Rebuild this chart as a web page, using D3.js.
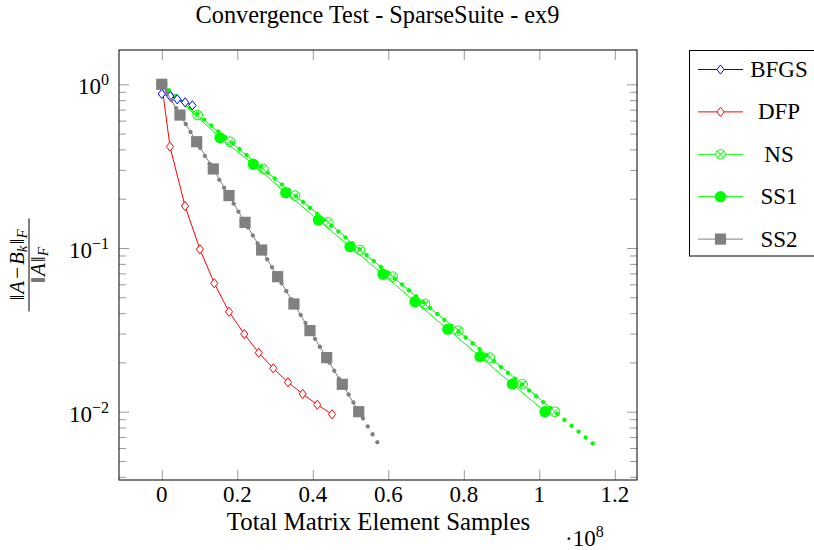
<!DOCTYPE html>
<html><head><meta charset="utf-8">
<script src="https://cdn.jsdelivr.net/npm/d3@7"></script>
<style>body{margin:0;background:#fff}</style>
</head><body><svg id="c" width="814" height="550" xmlns="http://www.w3.org/2000/svg"></svg>
<script>
// ---------- data ----------
const title = "Convergence Test - SparseSuite - ex9";
const xLabel = "Total Matrix Element Samples";
const xTicks = [0, 0.2, 0.4, 0.6, 0.8, 1, 1.2];
const xTickLabels = ["0", "0.2", "0.4", "0.6", "0.8", "1", "1.2"];
const yMajor = [1, 0.1, 0.01];
const yTickExponents = ["0", "\u22121", "\u22122"];
const yMinor = [0.9,0.8,0.7,0.6,0.5,0.4,0.3,0.2,
                0.09,0.08,0.07,0.06,0.05,0.04,0.03,0.02,
                0.009,0.008,0.007,0.006,0.005,0.004];

const seriesNames = ["BFGS", "DFP", "NS", "SS1", "SS2"];

const bfgsX = [0.000, 0.022, 0.041, 0.062, 0.081];
const bfgsY = [0.873, 0.848, 0.810, 0.776, 0.744];

const dfpX = [0, 0.0217, 0.0615, 0.101, 0.139, 0.178, 0.2185, 0.2567, 0.2954, 0.3343, 0.3732, 0.412, 0.4509];
const dfpY = [1, 0.416, 0.1805, 0.0982, 0.0609, 0.0408, 0.0298, 0.0229, 0.0184, 0.01512, 0.01283, 0.01104, 0.00964];

const nsX = [0, 0.0951, 0.1807, 0.2689, 0.3528, 0.441, 0.525, 0.6117, 0.6972, 0.7854, 0.8693, 0.956, 1.0413];
const nsY = [1, 0.649, 0.446, 0.304, 0.209, 0.1435, 0.0972, 0.0668, 0.0455, 0.0313, 0.0214, 0.0147, 0.0100];

const ss1X = [0, 0.1542, 0.2424, 0.3282, 0.4146, 0.4985, 0.586, 0.6707, 0.7573, 0.8429, 0.9285, 1.0151];
const ss1Y = [1, 0.472, 0.3246, 0.2177, 0.1483, 0.1018, 0.0691, 0.0470, 0.0319, 0.0217, 0.01476, 0.0100];

const ss2X = [0, 0.0482, 0.0924, 0.1364, 0.178, 0.2204, 0.2645, 0.3069, 0.35, 0.3925, 0.4368, 0.4781, 0.5216];
const ss2Y = [1, 0.649, 0.446, 0.304, 0.209, 0.1435, 0.0972, 0.0668, 0.0455, 0.0313, 0.0214, 0.0147, 0.0100];

// dotted reference lines (not in legend)
const ss1RefX = [0, 1.1415];
const ss1RefY = [1, 0.0064];
const ss2RefX = [0, 0.571];
const ss2RefY = [1, 0.0065];

// ---------- layout ----------
const FONT = "'Liberation Serif', 'Times New Roman', Times, 'DejaVu Serif', serif";
const L = 119, R = 637, T = 50, B = 480;
const svg = d3.select("#c");
const x = d3.scaleLinear().domain([-0.11338, 1.25881]).range([L, R]);
const y = d3.scaleLog().domain([Math.pow(10, -2.41723), Math.pow(10, 0.20953)]).range([B, T]);

const BLUE = "#0000ff", RED = "#ff0000", GREEN = "#00ff00", GRAY = "#808080";
const FS = 23;

svg.append("rect").attr("width", 814).attr("height", 550).attr("fill", "#fff");

function txt(parent, xx, yy, size, anchor) {
  return parent.append("text").attr("x", xx).attr("y", yy).attr("font-family", FONT)
    .attr("font-size", size).attr("text-anchor", anchor || "start").attr("fill", "#000");
}

// ticks via d3 axes
function axisG(axis, tx, ty) {
  const g = svg.append("g").attr("transform", `translate(${tx},${ty})`).call(axis);
  g.select(".domain").remove();
  g.selectAll("line").attr("stroke", "#9a9a9a").attr("stroke-width", 1);
  g.selectAll("text").remove();
  return g;
}
axisG(d3.axisBottom(x).tickValues(xTicks).tickSize(-10).tickFormat(""), 0, B);
axisG(d3.axisTop(x).tickValues(xTicks).tickSize(-10).tickFormat(""), 0, T);
axisG(d3.axisLeft(y).tickValues(yMajor).tickSize(-10).tickFormat(""), L, 0);
axisG(d3.axisRight(y).tickValues(yMajor).tickSize(-10).tickFormat(""), R, 0);
axisG(d3.axisLeft(y).tickValues(yMinor).tickSize(-7).tickFormat(""), L, 0);
axisG(d3.axisRight(y).tickValues(yMinor).tickSize(-7).tickFormat(""), R, 0);

// clip
svg.append("defs").append("clipPath").attr("id", "clip")
  .append("rect").attr("x", L).attr("y", T).attr("width", R - L).attr("height", B - T);
const plot = svg.append("g").attr("clip-path", "url(#clip)");

const line = d3.line().x(d => x(d[0])).y(d => y(d[1]));
const zip = (a, b) => a.map((v, i) => [v, b[i]]);

function diamond(g, cx, cy, color) {
  g.append("path").attr("d", `M${cx},${cy-4.6}L${cx+3.6},${cy}L${cx},${cy+4.6}L${cx-3.6},${cy}Z`)
    .attr("fill", "#fff").attr("stroke", color).attr("stroke-width", 1);
}
function otimes(g, cx, cy, color) {
  const r = 4.8, k = r * 0.7071;
  g.append("circle").attr("cx", cx).attr("cy", cy).attr("r", r).attr("fill", "#fff").attr("stroke", color).attr("stroke-width", 1);
  g.append("path").attr("d", `M${cx-k},${cy-k}L${cx+k},${cy+k}M${cx-k},${cy+k}L${cx+k},${cy-k}`)
    .attr("stroke", color).attr("stroke-width", 1);
}
function dot(g, cx, cy, color) {
  g.append("circle").attr("cx", cx).attr("cy", cy).attr("r", 5.6).attr("fill", color);
}
function square(g, cx, cy, color) {
  g.append("rect").attr("x", cx - 5.6).attr("y", cy - 5.6).attr("width", 11.2).attr("height", 11.2).attr("fill", color);
}

function series(xs, ys, color, marker) {
  const d = zip(xs, ys);
  plot.append("path").attr("d", line(d)).attr("fill", "none").attr("stroke", color).attr("stroke-width", 1);
  const g = plot.append("g");
  d.forEach(p => marker(g, x(p[0]), y(p[1]), color));
}
function dotted(xs, ys, color) {
  const p = plot.append("path").attr("d", line(zip(xs, ys))).attr("fill", "none").attr("stroke", color)
    .attr("stroke-width", 4.2).attr("stroke-linecap", "round");
  const len = p.node().getTotalLength();
  const n = Math.round(len / 9.2);
  const gap = (len - 0.05) / n;
  p.attr("stroke-dasharray", `0.01 ${gap - 0.01}`);
}

series(nsX, nsY, GREEN, otimes);
series(ss1X, ss1Y, GREEN, dot);
dotted(ss1RefX, ss1RefY, GREEN);
series(dfpX, dfpY, RED, diamond);
series(bfgsX, bfgsY, BLUE, diamond);
series(ss2X, ss2Y, GRAY, square);
dotted(ss2RefX, ss2RefY, GRAY);

// axis box
svg.append("rect").attr("x", L).attr("y", T).attr("width", R - L).attr("height", B - T)
  .attr("fill", "none").attr("stroke", "#000").attr("stroke-width", 1);

// x tick labels
xTicks.forEach((v, i) => { txt(svg, x(v), 502, FS, "middle").text(xTickLabels[i]); });
// y tick labels
yMajor.forEach((v, i) => {
  const t = txt(svg, 109, y(v) + 10, FS, "end");
  t.append("tspan").text("10");
  t.append("tspan").attr("font-size", 16).attr("dy", -9).text(yTickExponents[i]);
});

// title
txt(svg, (L + R) / 2 - 0.5, 23, 24.3, "middle").text(title);
// x label
txt(svg, (L + R) / 2 + 0.5, 530, 24.8, "middle").text(xLabel);
// multiplier
const m = txt(svg, 565, 546, FS, "start");
m.append("tspan").text("\u00b710");
m.append("tspan").attr("font-size", 16).attr("dy", -9).text("8");

// y label: fraction
const yl = svg.append("g").attr("transform", "translate(29,265) rotate(-90)");
yl.append("line").attr("x1", -46.5).attr("x2", 46.5).attr("y1", 0).attr("y2", 0).attr("stroke", "#000").attr("stroke-width", 1);
const num = txt(yl, 0, -5, 21, "middle");
num.append("tspan").text("\u2016");
num.append("tspan").attr("font-style", "italic").attr("dx", 1).text("A");
num.append("tspan").attr("dx", 2).text("\u2212");
num.append("tspan").attr("font-style", "italic").attr("dx", 2).text("B");
num.append("tspan").attr("font-style", "italic").attr("font-size", 15).attr("dy", 3).text("k");
num.append("tspan").attr("dy", -3).attr("dx", 1).text("\u2016");
num.append("tspan").attr("font-style", "italic").attr("font-size", 15).attr("dy", 3).text("F");
const den = txt(yl, 0, 16, 21, "middle");
den.append("tspan").text("\u2016");
den.append("tspan").attr("font-style", "italic").attr("dx", 1).text("A");
den.append("tspan").attr("dx", 1).text("\u2016");
den.append("tspan").attr("font-style", "italic").attr("font-size", 15).attr("dy", 3).text("F");

// legend
const lg = svg.append("g");
lg.append("rect").attr("x", 689.5).attr("y", 50.5).attr("width", 130).attr("height", 205.5)
  .attr("fill", "#fff").attr("stroke", "#000").attr("stroke-width", 1);
const legColors = [BLUE, RED, GREEN, GREEN, GRAY];
const legMarkers = [diamond, diamond, otimes, dot, square];
seriesNames.forEach((name, i) => {
  const cy = 69.5 + i * 42.4;
  lg.append("line").attr("x1", 698).attr("x2", 743).attr("y1", cy).attr("y2", cy)
    .attr("stroke", legColors[i]).attr("stroke-width", 1);
  legMarkers[i](lg, 720.5, cy, legColors[i]);
  txt(lg, 779, cy + 7.5, FS, "middle").text(name);
});
</script></body></html>
